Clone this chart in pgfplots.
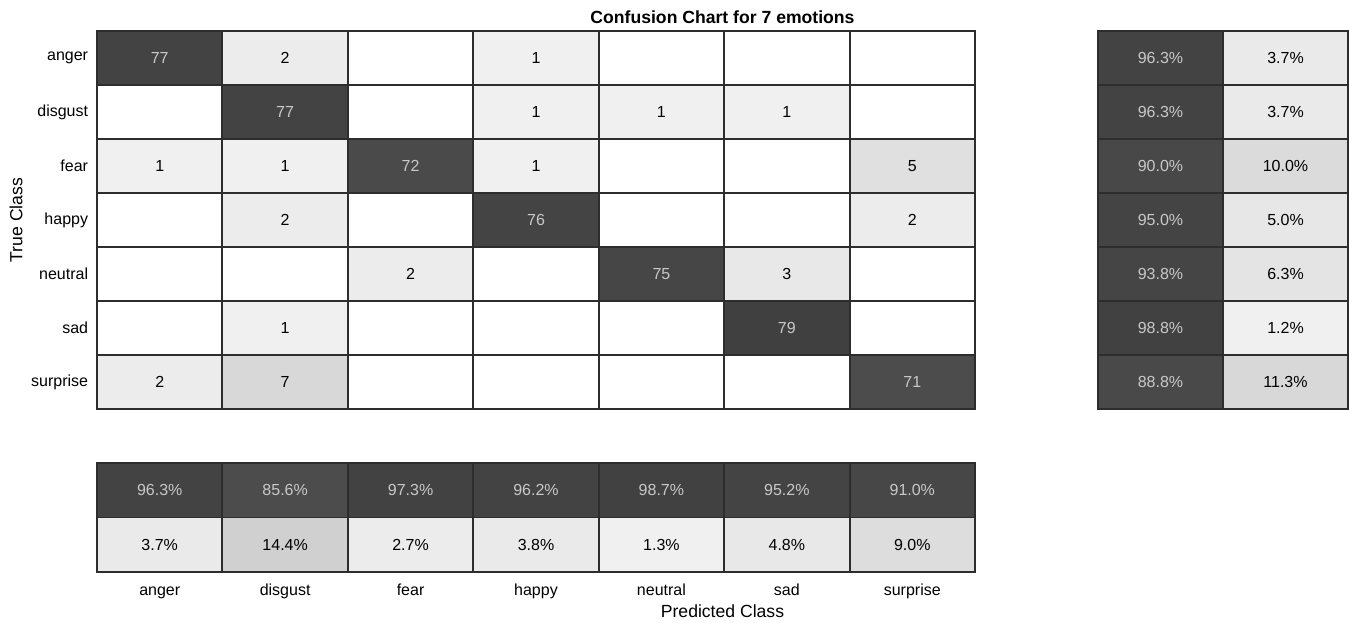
\documentclass[border=0pt]{standalone}
\usepackage{pgfplots}
\usepackage{pgfplotstable}
\pgfplotsset{compat=1.18}
\usepackage{fontspec}
\setmainfont{Liberation Sans}
\definecolor{celltext}{RGB}{200,200,200}
\definecolor{gridc}{RGB}{45,45,45}

% confusion matrix: x = predicted, y = true (0 = anger ... 6 = surprise)
\pgfplotstableread{
x y v c
0 0 77 gray=0.262
1 0 2 gray=0.925
2 0 0 gray=1
3 0 1 gray=0.941
4 0 0 gray=1
5 0 0 gray=1
6 0 0 gray=1
0 1 0 gray=1
1 1 77 gray=0.262
2 1 0 gray=1
3 1 1 gray=0.941
4 1 1 gray=0.941
5 1 1 gray=0.941
6 1 0 gray=1
0 2 1 gray=0.941
1 2 1 gray=0.941
2 2 72 gray=0.292
3 2 1 gray=0.941
4 2 0 gray=1
5 2 0 gray=1
6 2 5 gray=0.878
0 3 0 gray=1
1 3 2 gray=0.925
2 3 0 gray=1
3 3 76 gray=0.268
4 3 0 gray=1
5 3 0 gray=1
6 3 2 gray=0.925
0 4 0 gray=1
1 4 0 gray=1
2 4 2 gray=0.925
3 4 0 gray=1
4 4 75 gray=0.274
5 4 3 gray=0.910
6 4 0 gray=1
0 5 0 gray=1
1 5 1 gray=0.941
2 5 0 gray=1
3 5 0 gray=1
4 5 0 gray=1
5 5 79 gray=0.25
6 5 0 gray=1
0 6 2 gray=0.925
1 6 7 gray=0.847
2 6 0 gray=1
3 6 0 gray=1
4 6 0 gray=1
5 6 0 gray=1
6 6 71 gray=0.298
}\cmdata

% row summary (true-class %): x=0 correct, x=1 incorrect
\pgfplotstableread{
x y v c
0 0 96.3 gray=0.262
1 0 3.7 gray=0.918
0 1 96.3 gray=0.262
1 1 3.7 gray=0.918
0 2 90.0 gray=0.283
1 2 10.0 gray=0.859
0 3 95.0 gray=0.267
1 3 5.0 gray=0.906
0 4 93.8 gray=0.270
1 4 6.3 gray=0.894
0 5 98.8 gray=0.254
1 5 1.2 gray=0.942
0 6 88.8 gray=0.287
1 6 11.3 gray=0.847
}\rowdata

% column summary (predicted-class %): y=0 correct, y=1 incorrect
\pgfplotstableread{
x y v c
0 0 96.3 gray=0.262
1 0 85.6 gray=0.298
2 0 97.3 gray=0.259
3 0 96.2 gray=0.263
4 0 98.7 gray=0.254
5 0 95.2 gray=0.266
6 0 91.0 gray=0.280
0 1 3.7 gray=0.918
1 1 14.4 gray=0.817
2 1 2.7 gray=0.927
3 1 3.8 gray=0.917
4 1 1.3 gray=0.941
5 1 4.8 gray=0.908
6 1 9.0 gray=0.868
}\coldata

\pgfplotsset{
  /pgf/number format/assume math mode=true,
  cmaxis/.style={
    scale only axis, axis on top, enlargelimits=false, y dir=reverse,
    major tick length=0pt, minor tick length=0pt,
    grid style={gridc, line width=1.4pt},
    minor grid style={gridc, line width=1.4pt},
    axis line style={gridc, line width=1.5pt},
    tick label style={font=\fontsize{12}{14}\selectfont},
    clip=false,
  },
  cells/.style={matrix plot*, mesh/color input=explicit, point meta=explicit symbolic},
  lab/.style={sharp plot, draw=none, mark=none, mesh/color input=colormap, nodes near coords, point meta=explicit,
    every node near coord/.append style={anchor=center, inner sep=0pt,
      font=\fontsize{12}{14}\selectfont}},
  pct/.style={nodes near coords={\pgfmathprintnumber[fixed,fixed zerofill,precision=1]{\pgfplotspointmeta}\%}},
}

\begin{document}
\begin{tikzpicture}
\useasboundingbox (0,0) rectangle (1011.75pt,467.25pt);

% main confusion matrix
\begin{axis}[cmaxis,
  at={(72.75pt,160.5pt)}, anchor=south west,
  width=658.5pt, height=283.5pt,
  xmin=-0.5, xmax=6.5, ymin=-0.5, ymax=6.5,
  xtick={0.5,1.5,2.5,3.5,4.5,5.5}, xticklabels={}, xmajorgrids,
  ytick={0,1,2,3,4,5,6},
  yticklabels={anger,disgust,fear,happy,neutral,sad,surprise},
  yticklabel style={inner sep=0pt, xshift=-6.5pt},
  minor ytick={0.5,1.5,2.5,3.5,4.5,5.5}, yminorgrids,
  ylabel={True Class},
  every axis y label/.style={at={(axis description cs:-0.0849,0.5)}, rotate=90, anchor=base,
    font=\fontsize{13.2}{15}\selectfont},
  title={Confusion Chart for 7 emotions},
  every axis title/.style={at={(axis description cs:0.7124,1)}, anchor=base, yshift=5.25pt,
    font=\bfseries\fontsize{13.2}{15}\selectfont},
]
\addplot[cells, mesh/cols=7] table[meta=c] {\cmdata};
\addplot[lab, every node near coord/.append style={text=celltext},
  x filter/.expression={\thisrow{x}==\thisrow{y} ? x : nan}] table[x=x,y=y,meta=v] {\cmdata};
\addplot[lab, every node near coord/.append style={text=black},
  x filter/.expression={(\thisrow{x}!=\thisrow{y} && \thisrow{v}>0) ? x : nan}] table[x=x,y=y,meta=v] {\cmdata};
\end{axis}

% row summary
\begin{axis}[cmaxis,
  at={(823.5pt,160.5pt)}, anchor=south west,
  width=187.5pt, height=283.5pt,
  xmin=-0.5, xmax=1.5, ymin=-0.5, ymax=6.5,
  xtick={0.5}, xticklabels={}, xmajorgrids,
  ytick={0.5,1.5,2.5,3.5,4.5,5.5}, yticklabels={}, ymajorgrids,
]
\addplot[cells, mesh/cols=2] table[meta=c] {\rowdata};
\addplot[lab, pct, every node near coord/.append style={text=celltext},
  x filter/.expression={\thisrow{x}==0 ? x : nan}] table[x=x,y=y,meta=v] {\rowdata};
\addplot[lab, pct, every node near coord/.append style={text=black},
  x filter/.expression={\thisrow{x}==1 ? x : nan}] table[x=x,y=y,meta=v] {\rowdata};
\end{axis}

% column summary
\begin{axis}[cmaxis,
  at={(72.75pt,38.25pt)}, anchor=south west,
  width=658.5pt, height=81.75pt,
  xmin=-0.5, xmax=6.5, ymin=-0.5, ymax=1.5,
  xtick={0,1,2,3,4,5,6},
  xticklabels={anger,disgust,fear,happy,neutral,sad,surprise},
  xticklabel style={anchor=base, inner sep=0pt, yshift=-18pt},
  minor xtick={0.5,1.5,2.5,3.5,4.5,5.5}, xminorgrids,
  ytick={0.5}, yticklabels={}, ymajorgrids,
  xlabel={Predicted Class},
  every axis x label/.style={at={(axis description cs:0.7124,0)}, anchor=base, yshift=-34.5pt,
    font=\fontsize{13.2}{15}\selectfont},
]
\addplot[cells, mesh/cols=7] table[meta=c] {\coldata};
\addplot[lab, pct, every node near coord/.append style={text=celltext},
  x filter/.expression={\thisrow{y}==0 ? x : nan}] table[x=x,y=y,meta=v] {\coldata};
\addplot[lab, pct, every node near coord/.append style={text=black},
  x filter/.expression={\thisrow{y}==1 ? x : nan}] table[x=x,y=y,meta=v] {\coldata};
\end{axis}
\end{tikzpicture}
\end{document}
